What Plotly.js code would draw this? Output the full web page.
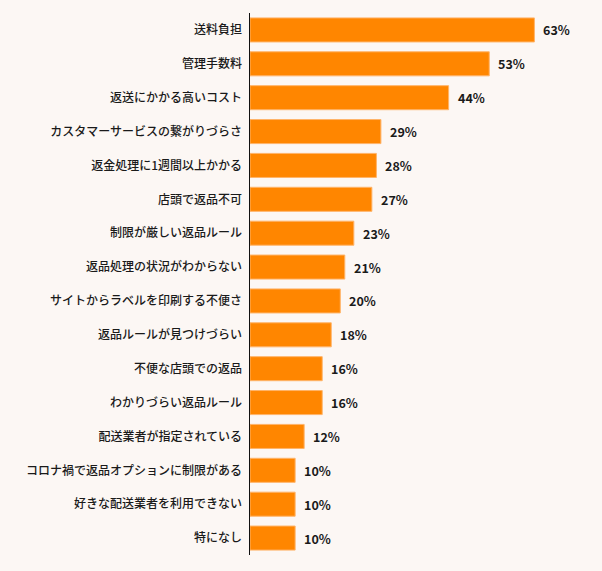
<!DOCTYPE html>
<html>
<head>
<meta charset="utf-8">
<script src="https://cdn.plot.ly/plotly-3.0.1.min.js"></script>
<style>
  html, body { margin: 0; padding: 0; background: #fcf7f4; }
  #chart { width: 602px; height: 571px; }
</style>
</head>
<body>
<div id="chart"></div>
<script>
  // categories, top to bottom as in the picture
  var categories = [
    "送料負担",
    "管理手数料",
    "返送にかかる高いコスト",
    "カスタマーサービスの繋がりづらさ",
    "返金処理に1週間以上かかる",
    "店頭で返品不可",
    "制限が厳しい返品ルール",
    "返品処理の状況がわからない",
    "サイトからラベルを印刷する不便さ",
    "返品ルールが見つけづらい",
    "不便な店頭での返品",
    "わかりづらい返品ルール",
    "配送業者が指定されている",
    "コロナ禍で返品オプションに制限がある",
    "好きな配送業者を利用できない",
    "特になし"
  ];
  var percents = [63, 53, 44, 29, 28, 27, 23, 21, 20, 18, 16, 16, 12, 10, 10, 10];

  // plotly draws the first category at the bottom, so reverse
  var yCats = categories.slice().reverse();
  var xVals = percents.slice().reverse();

  var data = [{
    type: 'bar',
    orientation: 'h',
    x: xVals,
    y: yCats,
    marker: { color: '#ff8600', line: { color: '#ffb469', width: 1 } },
    hoverinfo: 'none'
  }];

  // value labels just right of each bar
  var labels = xVals.map(function(v, i) {
    return {
      x: v, y: yCats[i], xref: 'x', yref: 'y',
      text: '<b>' + v + '%</b>',
      showarrow: false,
      xanchor: 'left',
      xshift: 7,
      font: { size: 12.5, color: '#1a1a1a' }
    };
  });

  var layout = {
    width: 602,
    height: 571,
    margin: { l: 250, r: 36, t: 13, b: 16 },
    paper_bgcolor: '#fcf7f4',
    plot_bgcolor: '#fcf7f4',
    bargap: 0.29,
    showlegend: false,
    font: { family: '"Noto Sans CJK JP", "Noto Sans", sans-serif', size: 12, color: '#1a1a1a' },
    annotations: labels,
    xaxis: {
      range: [0, 70],
      visible: false,
      fixedrange: true
    },
    yaxis: {
      type: 'category',
      showline: true,
      linecolor: '#111',
      linewidth: 1.5,
      showgrid: false,
      zeroline: false,
      ticks: '',
      ticklabelstandoff: 4,
      tickfont: { size: 12, color: '#1a1a1a', weight: 500 },
      fixedrange: true
    }
  };

  Plotly.newPlot('chart', data, layout, { displayModeBar: false, staticPlot: true });
</script>
</body>
</html>
